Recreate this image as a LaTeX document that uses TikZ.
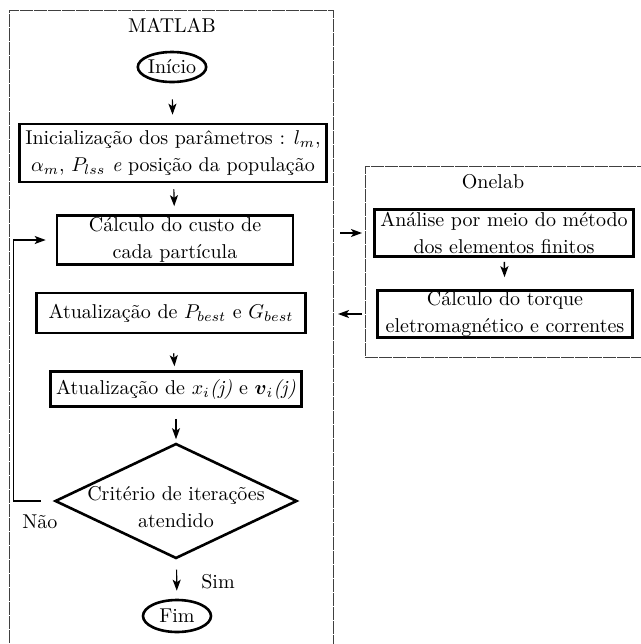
\documentclass[tikz,border=0pt]{standalone}
\usepackage{amsmath}
\usepackage{amssymb}
\usepackage{tikz}
\usetikzlibrary{shapes.geometric,arrows.meta}
\tikzset{
    frame-box/.style = {draw=black!75, thin, dash pattern=on 6.5pt off 0.5pt, rectangle, inner sep=0pt, outer sep=0pt},
    step-box/.style = {draw, line width=1.3pt, rectangle, align=center, inner xsep=3pt, inner ysep=0.5pt, font=\linespread{1.1}\selectfont},
    term-box/.style = {draw, line width=1.3pt, ellipse, inner sep=0pt},
    test-box/.style = {draw, line width=1.3pt, diamond, aspect=2.1, align=center, inner xsep=-5pt, inner ysep=-6pt, font=\linespread{1.1}\selectfont},
    flow-arrow/.style = {-{Stealth[length=5.5pt,width=4pt,inset=1.3pt]}, semithick},
}

\begin{document}
\begin{tikzpicture}[x=0.5pt, y=-0.5pt]
\useasboundingbox (0,0) rectangle (641,644);
% frames
\node [frame-box, minimum width=162pt, minimum height=325pt] (matlab) at (171,335) {};
\node [frame-box, minimum width=142.5pt, minimum height=95.5pt] (onelab) at (507.5,261.5) {};
\node (matlab-title) at (172,25) {MATLAB};
\node (onelab-title) at (493,182) {Onelab};

% MATLAB side
\node [term-box, minimum width=31pt, minimum height=15pt] (inicio) at (172,67) {Início};
\node [step-box, minimum height=29pt] (init) at (173,153) {Inicialização dos parâmetros : $l_m$,\\ $\alpha_m$, $P_{lss}$ \textit{e} posição da população};
\node [step-box, minimum width=118pt, minimum height=24.5pt] (custo) at (175,240) {Cálculo do custo de\\ cada partícula};
\node [step-box, minimum width=134.5pt, minimum height=20pt] (best) at (171,313) {Atualização de $P_{best}$ e $G_{best}$};
\node [step-box, minimum height=17.5pt] (atual) at (176,389) {Atualização de $x_i$\textit{(j)} e $\boldsymbol{v}_i$\textit{(j)}};
\node [test-box, minimum width=121pt, minimum height=57.5pt] (criterio) at (176,501) {\rule{0pt}{13pt}Critério de iterações\\ atendido};
\node [term-box, minimum width=34pt, minimum height=16pt] (fim) at (177,616) {Fim};
\node (nao) at (40,522) {Não};
\node (sim) at (218,582) {Sim};

% Onelab side
\node [step-box, minimum height=23.5pt] (analise) at (504,233) {Análise por meio do método\\ dos elementos finitos};
\node [step-box, minimum width=127.5pt, minimum height=23.5pt] (torque) at (505,314) {Cálculo do torque\\ eletromagnético e correntes};

% connectors
\draw [flow-arrow, shorten <=8pt, shorten >=4pt] (inicio) -- (init);
\draw [flow-arrow, shorten <=3pt, shorten >=4pt] (init) -- (custo);
\draw [flow-arrow, shorten <=9.5pt, shorten >=2pt] (best) -- (atual);
\draw [flow-arrow, shorten <=5.5pt, shorten >=1.5pt] (atual) -- (criterio);
\draw [flow-arrow, shorten <=5pt, shorten >=4pt] (criterio) -- (fim);
\draw [flow-arrow, shorten <=6.5pt, shorten >=5pt] (criterio.west) -- ++(-40,0) |- (custo.west);
\draw [flow-arrow, thick, shorten <=2pt, shorten >=6pt] (analise) -- (torque);
\draw [flow-arrow, shorten <=3.5pt, shorten >=1.5pt] (matlab.east |- analise) -- (onelab.west |- analise);
\draw [flow-arrow, shorten <=1.5pt, shorten >=2.5pt] (onelab.west |- torque) -- (matlab.east |- torque);
\end{tikzpicture}
\end{document}
